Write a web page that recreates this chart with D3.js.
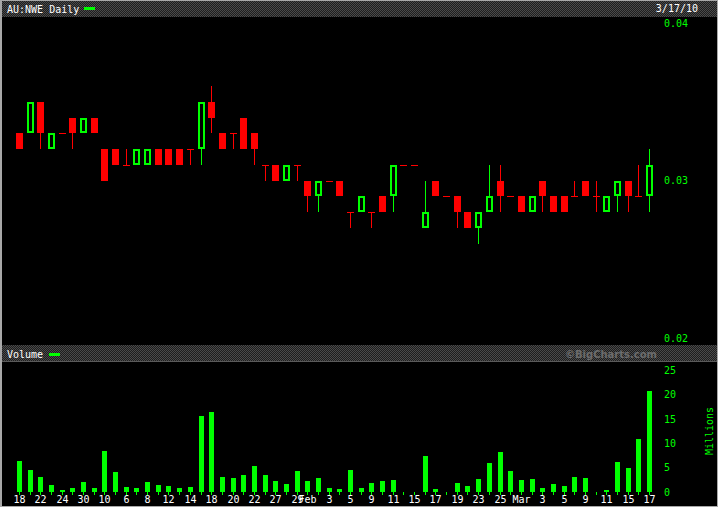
<!DOCTYPE html>
<html><head><meta charset="utf-8">
<script src="https://cdn.jsdelivr.net/npm/d3@7"></script>
<style>html,body{margin:0;padding:0;background:#fff;} svg{display:block}</style>
</head><body><svg id="c" width="720" height="510"></svg>
<script>
// ---- data (price in A$, volume in millions) ----
const opens  = [0.033,0.033,0.035,0.032,0.033,0.034,0.033,0.034,0.032,0.032,0.031,0.031,0.031,0.032,0.032,0.032,0.032,0.032,0.035,0.033,0.033,0.034,0.033,0.031,0.031,0.030,0.031,0.030,0.029,0.030,0.030,0.028,0.028,0.028,0.029,0.029,0.031,0.031,0.027,0.030,0.029,0.029,0.028,0.027,0.028,0.030,0.029,0.029,0.028,0.030,0.029,0.029,0.029,0.030,0.029,0.028,0.029,0.030,0.029,0.029];
const highs  = [0.033,0.035,0.035,0.033,0.033,0.034,0.034,0.034,0.032,0.032,0.032,0.032,0.032,0.032,0.032,0.032,0.032,0.035,0.036,0.033,0.033,0.034,0.033,0.031,0.031,0.031,0.031,0.030,0.030,0.030,0.030,0.028,0.029,0.028,0.029,0.031,0.031,0.031,0.030,0.030,0.029,0.029,0.028,0.028,0.031,0.031,0.029,0.029,0.029,0.030,0.029,0.029,0.030,0.030,0.030,0.029,0.030,0.030,0.031,0.032];
const lows   = [0.032,0.033,0.032,0.032,0.033,0.032,0.033,0.033,0.030,0.031,0.031,0.031,0.031,0.031,0.031,0.031,0.031,0.031,0.033,0.032,0.032,0.032,0.031,0.030,0.030,0.030,0.030,0.028,0.028,0.030,0.029,0.027,0.028,0.027,0.028,0.028,0.031,0.031,0.027,0.029,0.029,0.027,0.027,0.026,0.028,0.028,0.029,0.028,0.028,0.028,0.028,0.028,0.029,0.029,0.028,0.028,0.028,0.028,0.029,0.028];
const closes = [0.032,0.035,0.033,0.033,0.033,0.033,0.034,0.033,0.030,0.031,0.031,0.032,0.032,0.031,0.031,0.031,0.032,0.035,0.034,0.032,0.033,0.032,0.032,0.031,0.030,0.031,0.031,0.029,0.030,0.030,0.029,0.028,0.029,0.028,0.028,0.031,0.031,0.031,0.028,0.029,0.029,0.028,0.027,0.028,0.029,0.029,0.029,0.028,0.029,0.029,0.028,0.028,0.029,0.029,0.029,0.029,0.030,0.029,0.029,0.031];
const volumes = [6.4,4.5,3.1,1.4,0.35,0.9,2.1,0.9,8.4,4.1,1.1,0.9,2.1,1.4,1.2,0.9,1.1,15.6,16.4,3.1,2.9,3.5,5.3,3.5,2.3,1.6,4.3,2.3,2.9,0.9,0.6,4.5,0.8,1.8,2.3,2.5,0,0,7.4,0.6,0,1.8,1.2,2.7,5.9,8.2,4.3,2.5,2.7,0.8,1.6,1.2,3.1,2.9,0,0.35,6.1,4.9,10.9,20.7];
const labelIdx = [0,2,4,6,8,10,12,14,16,18,20,22,24,26,27,29,31,33,35,37,39,41,43,45,47,49,51,53,55,57,59];
const labelTxt = ["18","22","24","30","10","6","8","12","14","18","20","22","27","29","Feb","3","5","9","11","15","17","19","23","25","Mar","3","5","9","11","15","17"];
const priceTicks = [0.02,0.03,0.04];
const volTicks = [0,5,10,15,20,25];
const title = "AU:NWE Daily", dateStr = "3/17/10", volTitle = "Volume", volUnit = "Millions", mark = "©BigCharts.com";

const GREEN = "#00ff00", RED = "#ff0000", MONO = "'DejaVu Sans Mono', monospace";
const svg = d3.select("#c");
const defs = svg.append("defs");
const pat = defs.append("pattern").attr("id","chk").attr("width",2).attr("height",2).attr("patternUnits","userSpaceOnUse");
pat.append("rect").attr("width",2).attr("height",2).attr("fill","#1e1e1e");
pat.append("rect").attr("width",1).attr("height",1).attr("fill","#4a4a4a");
pat.append("rect").attr("x",1).attr("y",1).attr("width",1).attr("height",1).attr("fill","#4a4a4a");

svg.attr("shape-rendering","crispEdges");
// frame
svg.append("rect").attr("x",0).attr("y",0).attr("width",718).attr("height",507).attr("fill","#a8a8a8");
svg.append("rect").attr("x",2).attr("y",1).attr("width",715).attr("height",505).attr("fill","#000");
// header bands
svg.append("rect").attr("x",2).attr("y",1).attr("width",715).attr("height",16).attr("fill","url(#chk)");
svg.append("rect").attr("x",2).attr("y",345).attr("width",715).attr("height",16).attr("fill","url(#chk)");
svg.append("rect").attr("x",2).attr("y",361).attr("width",715).attr("height",1).attr("fill","#5a5a5a");

// header texts
svg.append("text").attr("x",7).attr("y",12.5).attr("fill","#fff").attr("font-family",MONO).attr("font-size",10).text(title);
svg.append("rect").attr("x",84).attr("y",7).attr("width",11).attr("height",3).attr("fill",GREEN);
svg.append("text").attr("x",698).attr("y",12).attr("text-anchor","end").attr("fill","#fff").attr("font-family",MONO).attr("font-size",10).text(dateStr);
svg.append("text").attr("x",7).attr("y",358).attr("fill","#fff").attr("font-family",MONO).attr("font-size",10).text(volTitle);
svg.append("rect").attr("x",49).attr("y",353).attr("width",11).attr("height",3).attr("fill",GREEN);
svg.append("text").attr("x",565).attr("y",358).attr("fill","#6c6c6c").attr("font-family","'DejaVu Sans', sans-serif")
  .attr("font-weight","bold").attr("font-size",11).attr("textLength",92).attr("lengthAdjust","spacingAndGlyphs").text(mark);

// scales
const n = closes.length;
const x = d3.scaleLinear().domain([0, n-1]).rangeRound([19, 649]);
const y = d3.scaleLinear().domain([0.02, 0.04]).range([338.6, 22.8]);
const yv = d3.scaleLinear().domain([0, 25]).range([492, 370]);

// price axis
const pa = svg.append("g").attr("transform","translate(664,0)")
  .call(d3.axisRight(y).tickValues(priceTicks).tickSize(0).tickPadding(0).tickFormat(d3.format(".2f")));
pa.select(".domain").remove();
pa.selectAll("text").attr("fill",GREEN).attr("font-family",MONO).attr("font-size",10);

// candles
const data = d3.range(n).map(i => ({i, o:opens[i], h:highs[i], l:lows[i], c:closes[i]}));
const cg = svg.append("g");
data.forEach(d => {
  const cx = x(d.i);
  const col = d.c > d.o ? GREEN : RED;
  const yh = Math.round(y(d.h)), yl = Math.round(y(d.l));
  const yt = Math.round(y(Math.max(d.o,d.c))), yb = Math.round(y(Math.min(d.o,d.c)));
  if (yl > yh) cg.append("rect").attr("x",cx).attr("y",yh).attr("width",1).attr("height",yl-yh).attr("fill",col);
  if (d.c > d.o) {
    cg.append("rect").attr("x",cx-2).attr("y",yt+1).attr("width",5).attr("height",yb-yt-2)
      .attr("fill","#000").attr("stroke",col).attr("stroke-width",2);
  } else if (d.c < d.o) {
    cg.append("rect").attr("x",cx-3).attr("y",yt).attr("width",7).attr("height",yb-yt).attr("fill",col);
  } else {
    cg.append("rect").attr("x",cx-3).attr("y",yt).attr("width",7).attr("height",1).attr("fill",col);
  }
});

// volume bars
svg.append("g").selectAll("rect").data(volumes).join("rect")
  .attr("x",(v,i)=>x(i)-2).attr("width",5)
  .attr("y",v=>Math.round(yv(v))).attr("height",v=>Math.round(yv(0))-Math.round(yv(v)))
  .attr("fill",GREEN);

// volume axis
const va = svg.append("g").attr("transform","translate(664,0)")
  .call(d3.axisRight(yv).tickValues(volTicks).tickSize(0).tickPadding(0));
va.select(".domain").remove();
va.selectAll("text").attr("fill",GREEN).attr("font-family",MONO).attr("font-size",10);
svg.append("text").attr("transform","translate(713,431) rotate(-90)").attr("text-anchor","middle")
  .attr("fill",GREEN).attr("font-family",MONO).attr("font-size",10).text(volUnit);

// x axis
const lab = new Map(labelIdx.map((k,j)=>[k,labelTxt[j]]));
const xa = svg.append("g").attr("transform","translate(0,492)")
  .call(d3.axisBottom(x).tickValues(d3.range(n)).tickSize(3).tickPadding(1).tickFormat(i => lab.get(i) || ""));
xa.select(".domain").remove();
xa.selectAll("line").attr("stroke",GREEN);
xa.selectAll("text").attr("fill","#fff").attr("font-family",MONO).attr("font-size",10);
</script></body></html>
